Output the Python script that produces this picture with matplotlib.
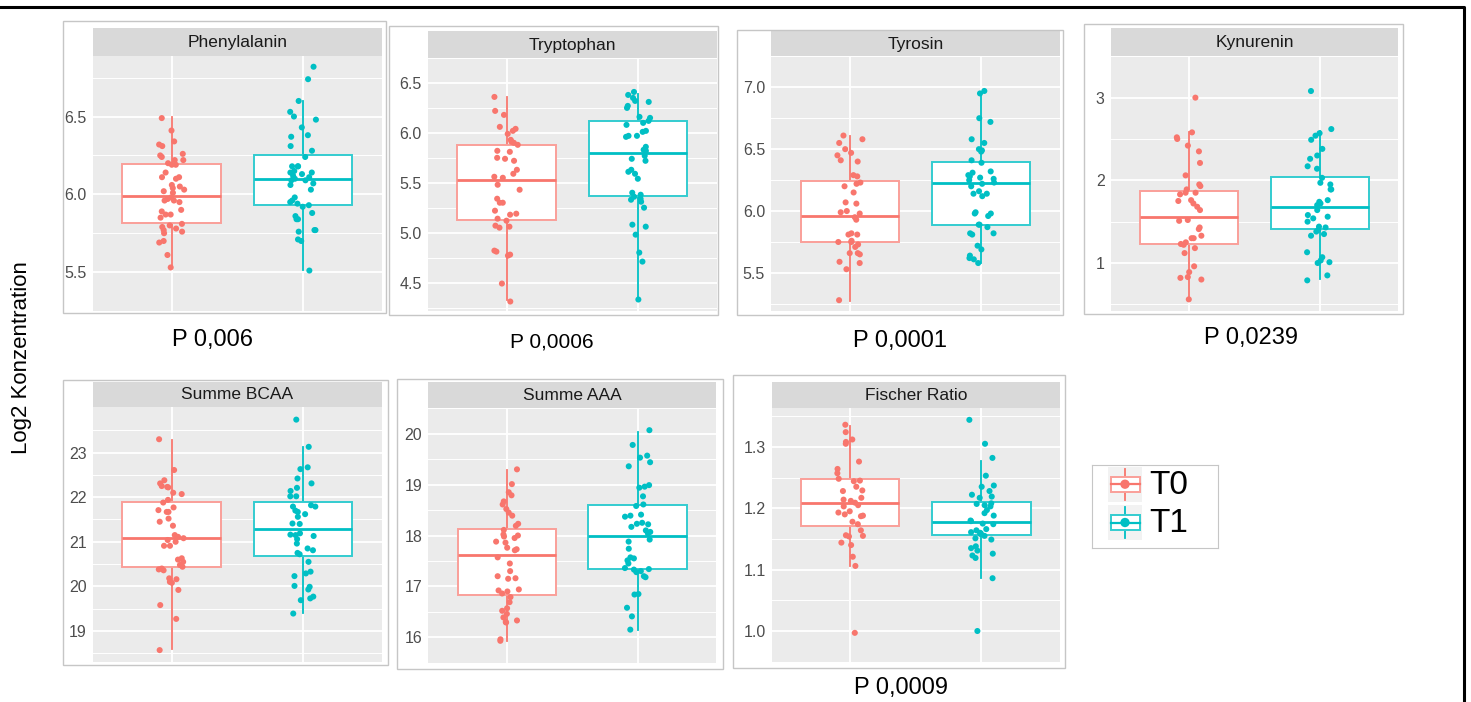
import numpy as np
import matplotlib.pyplot as plt
from matplotlib.patches import Rectangle
from matplotlib.ticker import FormatStrFormatter

plt.rcParams['font.family'] = ['Liberation Sans', 'DejaVu Sans']

W, H = 1471, 702
red, teal = '#F8766D', '#00BFC4'
red_box, teal_box = '#FA9F99', '#33CCD0'

groups = ['T0', 'T1']
titles = ['Phenylalanin', 'Tryptophan', 'Tyrosin', 'Kynurenin',
          'Summe BCAA', 'Summe AAA', 'Fischer Ratio']
p_labels = ['P 0,006', 'P 0,0006', 'P 0,0001', 'P 0,0239', 'P 0,0009']

# values (log2 concentration)
phe_t0 = [6.49, 6.41, 6.34, 6.32, 6.31, 6.26, 6.25, 6.24, 6.22, 6.22, 6.20, 6.19, 6.19, 6.14, 6.11,
          6.11, 6.10, 6.06, 6.05, 6.04, 6.03, 6.02, 6.01, 5.98, 5.97, 5.96, 5.96, 5.95, 5.90, 5.89,
          5.87, 5.87, 5.85, 5.81, 5.80, 5.79, 5.78, 5.77, 5.76, 5.75, 5.69, 5.70, 5.61, 5.53]
phe_t1 = [6.82, 6.74, 6.60, 6.53, 6.50, 6.48, 6.43, 6.38, 6.37, 6.31, 6.28, 6.24, 6.18, 6.18, 6.18,
          6.15, 6.14, 6.14, 6.13, 6.12, 6.11, 6.10, 6.09, 6.09, 6.07, 6.06, 6.03, 5.98, 5.96, 5.95,
          5.94, 5.93, 5.92, 5.88, 5.86, 5.84, 5.84, 5.77, 5.77, 5.76, 5.70, 5.71, 5.51]
trp_t0 = [6.36, 6.22, 6.18, 6.06, 6.04, 6.02, 5.99, 5.93, 5.91, 5.90, 5.88, 5.82, 5.81, 5.75, 5.74,
          5.72, 5.63, 5.59, 5.56, 5.55, 5.48, 5.43, 5.34, 5.30, 5.30, 5.22, 5.19, 5.18, 5.14, 5.12,
          5.07, 5.06, 5.05, 4.82, 4.81, 4.77, 4.78, 4.49, 4.31]
trp_t1 = [6.41, 6.38, 6.35, 6.32, 6.31, 6.27, 6.25, 6.16, 6.15, 6.12, 6.10, 6.08, 6.02, 6.01, 5.97,
          5.97, 5.96, 5.86, 5.83, 5.82, 5.77, 5.74, 5.72, 5.63, 5.61, 5.59, 5.54, 5.40, 5.38, 5.34,
          5.33, 5.31, 5.36, 5.25, 5.08, 5.06, 4.98, 4.80, 4.71, 4.33]
tyr_t0 = [6.61, 6.58, 6.55, 6.50, 6.47, 6.45, 6.41, 6.40, 6.28, 6.29, 6.23, 6.22, 6.20, 6.15, 6.07,
          6.06, 6.00, 5.99, 5.98, 5.95, 5.93, 5.82, 5.81, 5.81, 5.76, 5.75, 5.75, 5.73, 5.71, 5.66,
          5.66, 5.65, 5.59, 5.58, 5.53, 5.28]
tyr_t1 = [6.97, 6.95, 6.75, 6.72, 6.58, 6.55, 6.50, 6.49, 6.48, 6.41, 6.39, 6.32, 6.31, 6.29, 6.28,
          6.27, 6.26, 6.25, 6.23, 6.22, 6.20, 6.16, 6.14, 6.14, 6.12, 5.99, 5.98, 5.98, 5.96, 5.89,
          5.89, 5.87, 5.82, 5.82, 5.81, 5.72, 5.69, 5.64, 5.62, 5.61, 5.58]
kyn_t0 = [3.00, 2.58, 2.52, 2.50, 2.42, 2.35, 2.21, 2.06, 1.95, 1.93, 1.89, 1.85, 1.85, 1.83, 1.76,
          1.75, 1.72, 1.68, 1.64, 1.52, 1.51, 1.43, 1.41, 1.33, 1.30, 1.30, 1.25, 1.23, 1.22, 1.18,
          1.12, 0.96, 0.89, 0.83, 0.80, 0.82, 0.56]
kyn_t1 = [3.08, 2.62, 2.57, 2.54, 2.49, 2.38, 2.30, 2.26, 2.17, 2.14, 2.03, 1.97, 1.95, 1.89, 1.89,
          1.76, 1.74, 1.72, 1.70, 1.64, 1.58, 1.56, 1.54, 1.50, 1.44, 1.43, 1.40, 1.38, 1.35, 1.33,
          1.13, 1.07, 1.03, 1.01, 1.00, 0.85, 0.79]
bcaa_t0 = [23.30, 22.61, 22.38, 22.31, 22.25, 22.22, 22.23, 22.10, 22.07, 21.94, 21.88, 21.77, 21.71,
           21.67, 21.67, 21.52, 21.45, 21.36, 21.15, 21.11, 21.08, 21.04, 21.00, 20.91, 20.91, 20.63,
           20.60, 20.55, 20.48, 20.44, 20.40, 20.38, 20.36, 20.18, 20.16, 20.10, 20.08, 19.92, 19.58,
           19.27, 18.57]
bcaa_t1 = [23.74, 23.13, 22.67, 22.63, 22.42, 22.31, 22.21, 22.14, 22.02, 22.02, 21.82, 21.79, 21.79,
           21.70, 21.67, 21.62, 21.56, 21.40, 21.41, 21.19, 21.16, 21.15, 21.13, 21.06, 20.96, 20.85,
           20.81, 20.75, 20.72, 20.55, 20.33, 20.29, 20.23, 20.01, 19.99, 19.93, 19.77, 19.73, 19.69,
           19.39]
aaa_t0 = [19.30, 19.01, 18.85, 18.79, 18.67, 18.61, 18.45, 18.52, 18.39, 18.23, 18.19, 18.11, 18.02,
          18.00, 17.98, 17.95, 17.88, 17.86, 17.76, 17.71, 17.73, 17.57, 17.45, 17.30, 17.20, 17.16,
          17.15, 16.94, 16.92, 16.90, 16.86, 16.79, 16.69, 16.57, 16.52, 16.46, 16.39, 16.33, 16.30,
          16.29, 15.96, 15.93]
aaa_t1 = [20.07, 19.78, 19.57, 19.53, 19.44, 19.36, 18.99, 18.96, 18.94, 18.77, 18.61, 18.58, 18.41,
          18.39, 18.37, 18.25, 18.23, 18.22, 18.17, 18.10, 18.07, 18.04, 17.92, 17.88, 17.74, 17.57,
          17.55, 17.51, 17.45, 17.36, 17.34, 17.33, 17.30, 17.28, 17.20, 17.18, 16.84, 16.85, 16.58,
          16.41, 16.15]
fis_t0 = [1.336, 1.324, 1.312, 1.308, 1.305, 1.276, 1.264, 1.257, 1.248, 1.245, 1.244, 1.235, 1.229,
          1.228, 1.217, 1.214, 1.212, 1.209, 1.205, 1.203, 1.195, 1.193, 1.190, 1.188, 1.187, 1.178,
          1.174, 1.164, 1.156, 1.155, 1.154, 1.144, 1.140, 1.121, 1.106, 0.997]
fis_t1 = [1.344, 1.305, 1.282, 1.253, 1.237, 1.235, 1.228, 1.222, 1.219, 1.217, 1.208, 1.207, 1.205,
          1.203, 1.197, 1.192, 1.188, 1.180, 1.179, 1.175, 1.174, 1.166, 1.164, 1.161, 1.160, 1.159,
          1.158, 1.155, 1.151, 1.149, 1.138, 1.135, 1.131, 1.126, 1.123, 1.119, 1.086, 1.000]

# box stats: q1, median, q3, whisker low, whisker high
phe_box = [[5.815, 5.987, 6.192, 5.538, 6.494], [5.934, 6.100, 6.251, 5.513, 6.598]]
trp_box = [[5.130, 5.530, 5.882, 4.327, 6.358], [5.364, 5.797, 6.115, 4.327, 6.388]]
tyr_box = [[5.746, 5.959, 6.239, 5.276, 6.605], [5.885, 6.227, 6.393, 5.580, 6.951]]
kyn_box = [[1.234, 1.558, 1.872, 0.566, 2.584], [1.416, 1.672, 2.044, 0.803, 2.599]]
bcaa_box = [[20.424, 21.090, 21.897, 18.585, 23.280], [20.686, 21.284, 21.897, 19.407, 23.116]]
aaa_box = [[16.839, 17.625, 18.131, 15.929, 19.280], [17.339, 17.994, 18.607, 16.137, 20.036]]
fis_box = [[1.1714, 1.2090, 1.2482, 1.1062, 1.3335], [1.1563, 1.1779, 1.2100, 1.0861, 1.2768]]

values = [(phe_t0, phe_t1), (trp_t0, trp_t1), (tyr_t0, tyr_t1), (kyn_t0, kyn_t1),
          (bcaa_t0, bcaa_t1), (aaa_t0, aaa_t1), (fis_t0, fis_t1)]
boxes = [phe_box, trp_box, tyr_box, kyn_box, bcaa_box, aaa_box, fis_box]
yticks = [[5.5, 6.0, 6.5], [4.5, 5.0, 5.5, 6.0, 6.5], [5.5, 6.0, 6.5, 7.0], [1, 2, 3],
          [19, 20, 21, 22, 23], [16, 17, 18, 19, 20], [1.0, 1.1, 1.2, 1.3]]

# layout in pixels: frame box, panel x range, strip top/bottom, panel bottom, y limits, tick format
layout = [
    ((63, 21, 386, 313), 92.7, 381.7, 28, 56, 311, (5.443, 6.889), '%.1f'),
    ((389, 26, 718, 315), 427.7, 716.7, 31, 58, 310.7, (4.218, 6.515), '%.1f'),
    ((736.7, 29.7, 1063, 314.7), 771, 1060, 31.3, 56.3, 310.7, (5.195, 7.056), '%.1f'),
    ((1084, 24, 1402.7, 314), 1110.7, 1398.3, 28, 56.3, 310.7, (0.423, 3.208), '%d'),
    ((63.3, 380, 388.3, 665), 92.7, 381.7, 381.7, 406.7, 661.7, (18.31, 24.03), '%d'),
    ((396.7, 379.3, 723, 669), 428.3, 716, 381.7, 408.3, 662.7, (15.725, 20.268), '%d'),
    ((733, 375, 1065, 668), 771.7, 1060, 381.7, 408.3, 661.7, (0.9813, 1.3628), '%.1f'),
]
p_pos = [(212, 340), (552, 342), (900, 341), (1251, 338), (901, 688)]


def fr(x0, y0, x1, y1):
    return [x0 / W, 1 - y1 / H, (x1 - x0) / W, (y1 - y0) / H]


fig = plt.figure(figsize=(W / 100, H / 100), dpi=100)
rng = np.random.default_rng(11)


def frame(x0, y0, x1, y1, ec='#C6C6C6', lw=1.0):
    fig.add_artist(Rectangle((x0 / W, 1 - y1 / H), (x1 - x0) / W, (y1 - y0) / H,
                             transform=fig.transFigure, fill=False, ec=ec, lw=lw))


def clean(ax):
    for s in ax.spines.values():
        s.set_visible(False)
    ax.set_xticks([])
    ax.set_yticks([])


for i in range(7):
    box, px0, px1, sy0, sy1, py1, ylim, fmt = layout[i]
    frame(*box)

    sax = fig.add_axes(fr(px0, sy0, px1, sy1))
    sax.set_facecolor('#D9D9D9')
    clean(sax)
    sax.text(0.5, 0.47, titles[i], transform=sax.transAxes, ha='center', va='center',
             fontsize=12.5, color='#1A1A1A')

    ax = fig.add_axes(fr(px0, sy1, px1, py1))
    ax.set_facecolor('#EBEBEB')
    for s in ax.spines.values():
        s.set_visible(False)

    stats = [dict(q1=b[0], med=b[1], q3=b[2], whislo=b[3], whishi=b[4]) for b in boxes[i]]
    art = ax.bxp(stats, positions=[1, 2], widths=0.75, patch_artist=True,
                 showfliers=False, showcaps=False, manage_ticks=False)
    for k, (c, cb) in enumerate([(red, red_box), (teal, teal_box)]):
        art['boxes'][k].set(facecolor='white', edgecolor=cb, lw=1.4, zorder=2)
        art['whiskers'][2 * k].set(color=c, lw=1.3, zorder=1.9)
        art['whiskers'][2 * k + 1].set(color=c, lw=1.3, zorder=1.9)
        art['medians'][k].set(color=c, lw=2.0, zorder=2.1)

    for k, c in enumerate([red, teal]):
        v = np.array(values[i][k])
        x = (k + 1) + rng.uniform(-0.1, 0.1, len(v))
        ax.scatter(x, v, s=19, color=c, edgecolors='none', zorder=3)

    ax.set_xlim(0.4, 2.6)
    ax.set_ylim(*ylim)
    t = yticks[i]
    step = t[1] - t[0]
    ax.set_yticks(t)
    ax.set_yticks([t[0] - step / 2] + [v + step / 2 for v in t], minor=True)
    ax.set_xticks([1, 2])
    ax.set_xticklabels(['', ''])
    ax.yaxis.set_major_formatter(FormatStrFormatter(fmt))
    ax.grid(True, which='major', color='white', lw=1.3)
    ax.grid(True, which='minor', axis='y', color='white', lw=0.7)
    ax.set_axisbelow(True)
    ax.tick_params(axis='both', which='both', length=0)
    ax.tick_params(axis='x', labelbottom=False)
    ax.tick_params(axis='y', pad=4.3, labelsize=11.5, labelcolor='#4D4D4D')

for txt, (x, y) in zip(p_labels, p_pos):
    fs = 15 if txt == 'P 0,0006' else 17
    fig.text(x / W, 1 - y / H, txt, ha='center', va='center', fontsize=fs, color='black')

fig.text(22 / W, 1 - 358 / H, 'Log2 Konzentration', rotation=90, ha='center', va='center',
         fontsize=16, color='black')

# legend
lax = fig.add_axes(fr(1092, 465, 1218, 548))
lax.set_xlim(1092, 1218)
lax.set_ylim(548, 465)
for s in lax.spines.values():
    s.set_color('#C6C6C6')
lax.set_xticks([])
lax.set_yticks([])
for k, (c, cb) in enumerate([(red, red_box), (teal, teal_box)]):
    y0 = 466.7 + k * 38.3
    yc = y0 + 17.5
    lax.add_patch(Rectangle((1107.7, y0), 34.6, 35, fc='#F2F2F2', ec='none'))
    lax.plot([1125, 1125], [y0 + 2, y0 + 33], color=c, lw=1.3)
    lax.add_patch(Rectangle((1110.5, yc - 7.3), 29, 14.6, fc='white', ec=cb, lw=1.4, zorder=2))
    lax.plot([1110.5, 1139.5], [yc, yc], color=c, lw=1.6, zorder=3)
    lax.scatter([1125], [yc], s=45, color=c, edgecolors='none', zorder=4)
    lax.text(1149, yc + 1, groups[k], ha='left', va='center', fontsize=24, color='black')

# outer frame
fig.add_artist(plt.Line2D([0, 1464 / W, 1464 / W], [1 - 7 / H, 1 - 7 / H, 0],
                          transform=fig.transFigure, color='black', lw=2.2))

fig.savefig('out.png', dpi=100)
